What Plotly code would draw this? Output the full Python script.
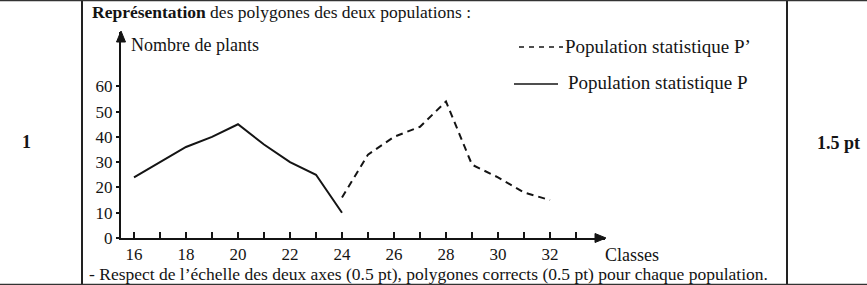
import plotly.graph_objects as go

# ---- data ----
classes_P = [16, 17, 18, 19, 20, 21, 22, 23, 24]
values_P = [24, 30, 36, 40, 45, 37, 30, 25, 10]
classes_Pp = [24, 25, 26, 27, 28, 29, 30, 31, 32]
values_Pp = [16, 33, 40, 44, 54, 29, 24, 18, 15]
x_tick_vals = list(range(16, 34))
x_tick_text = [str(v) if (v % 2 == 0 and v <= 32) else "" for v in x_tick_vals]
y_tick_vals = [0, 10, 20, 30, 40, 50, 60]
y_tick_text = [str(v) for v in y_tick_vals]

# ---- layout geometry ----
W, H = 867, 285
L, R, T, B = 121, 605, 32, 238
PW, PH = R - L, B - T
X_PX_PER_UNIT = 26.0
Y_PX_PER_UNIT = 2.528
FONT = "Liberation Serif"
INK = "#141414"


def px(x):
    return (x - L) / PW


def py(y):
    return (B - y) / PH


fig = go.Figure()
fig.add_trace(go.Scatter(x=classes_P, y=values_P, mode="lines", name="Population statistique P",
                         line=dict(color=INK, width=2), showlegend=False, cliponaxis=False))
fig.add_trace(go.Scatter(x=classes_Pp, y=values_Pp, mode="lines", name="Population statistique P'",
                         line=dict(color=INK, width=2, dash="7px,5px"), showlegend=False,
                         cliponaxis=False))

shapes = []
# table borders
for xv in (82, 787):
    shapes.append(dict(type="line", xref="paper", yref="paper", x0=px(xv), x1=px(xv),
                       y0=py(0), y1=py(285), line=dict(color="#222", width=2)))
for yv in (0.5, 284.5):
    shapes.append(dict(type="line", xref="paper", yref="paper", x0=px(0), x1=px(867),
                       y0=py(yv), y1=py(yv), line=dict(color="#333", width=1.5)))
# axis arrow heads
shapes.append(dict(type="path", xref="paper", yref="paper",
                   path=f"M {px(606)},{py(238)} L {px(595)},{py(233.5)} L {px(595)},{py(242.5)} Z",
                   fillcolor=INK, line=dict(color=INK, width=1)))
shapes.append(dict(type="path", xref="paper", yref="paper",
                   path=f"M {px(121)},{py(31)} L {px(116.5)},{py(42)} L {px(125.5)},{py(42)} Z",
                   fillcolor=INK, line=dict(color=INK, width=1)))
# legend samples
shapes.append(dict(type="line", xref="paper", yref="paper", x0=px(519), x1=px(563),
                   y0=py(47), y1=py(47), line=dict(color=INK, width=1.6, dash="5px,5px")))
shapes.append(dict(type="line", xref="paper", yref="paper", x0=px(514), x1=px(558),
                   y0=py(84), y1=py(84), line=dict(color=INK, width=1.6)))


def ann(text, x, y, size, xanchor="left", yanchor="middle", bold=False):
    return dict(text=(f"<b>{text}</b>" if bold else text), x=px(x), y=py(y), xref="paper",
                yref="paper", xanchor=xanchor, yanchor=yanchor, showarrow=False,
                font=dict(family=FONT, size=size, color=INK))


annotations = [
    ann("<b>Représentation</b> des polygones des deux populations :", 90, 12, 17.5),
    ann("Nombre de plants", 129, 45, 18),
    ann("Population statistique P’", 563, 47, 19),
    ann("Population statistique P", 566, 82, 19),
    ann("Classes", 603, 255, 18),
    ann("- Respect de l’échelle des deux axes (0.5 pt), polygones corrects (0.5 pt) pour chaque population.",
        87, 274, 17.5),
    ann("1", 26, 142, 18, xanchor="center", bold=True),
    ann("1.5 pt", 838, 143, 18, xanchor="center", bold=True),
]

fig.update_layout(
    width=W, height=H, autosize=False,
    margin=dict(l=L, r=W - R, t=T, b=H - B, pad=0),
    paper_bgcolor="white", plot_bgcolor="white",
    shapes=shapes, annotations=annotations,
    xaxis=dict(range=[16 - 13 / X_PX_PER_UNIT, 16 - 13 / X_PX_PER_UNIT + PW / X_PX_PER_UNIT],
               showline=True, linecolor=INK, linewidth=2, ticks="inside", ticklen=6,
               tickwidth=1.5, tickcolor=INK, tickvals=x_tick_vals, ticktext=x_tick_text,
               showgrid=False, zeroline=False, fixedrange=True,
               tickfont=dict(family=FONT, size=17, color=INK)),
    yaxis=dict(range=[0, PH / Y_PX_PER_UNIT], showline=True, linecolor=INK, linewidth=2,
               ticks="outside", ticklen=3, tickwidth=1.5, tickcolor=INK,
               tickvals=y_tick_vals, ticktext=y_tick_text, showgrid=False, zeroline=False,
               fixedrange=True, tickfont=dict(family=FONT, size=17, color=INK)),
    showlegend=False,
)

fig.write_html("out.html", config={"displayModeBar": False})
